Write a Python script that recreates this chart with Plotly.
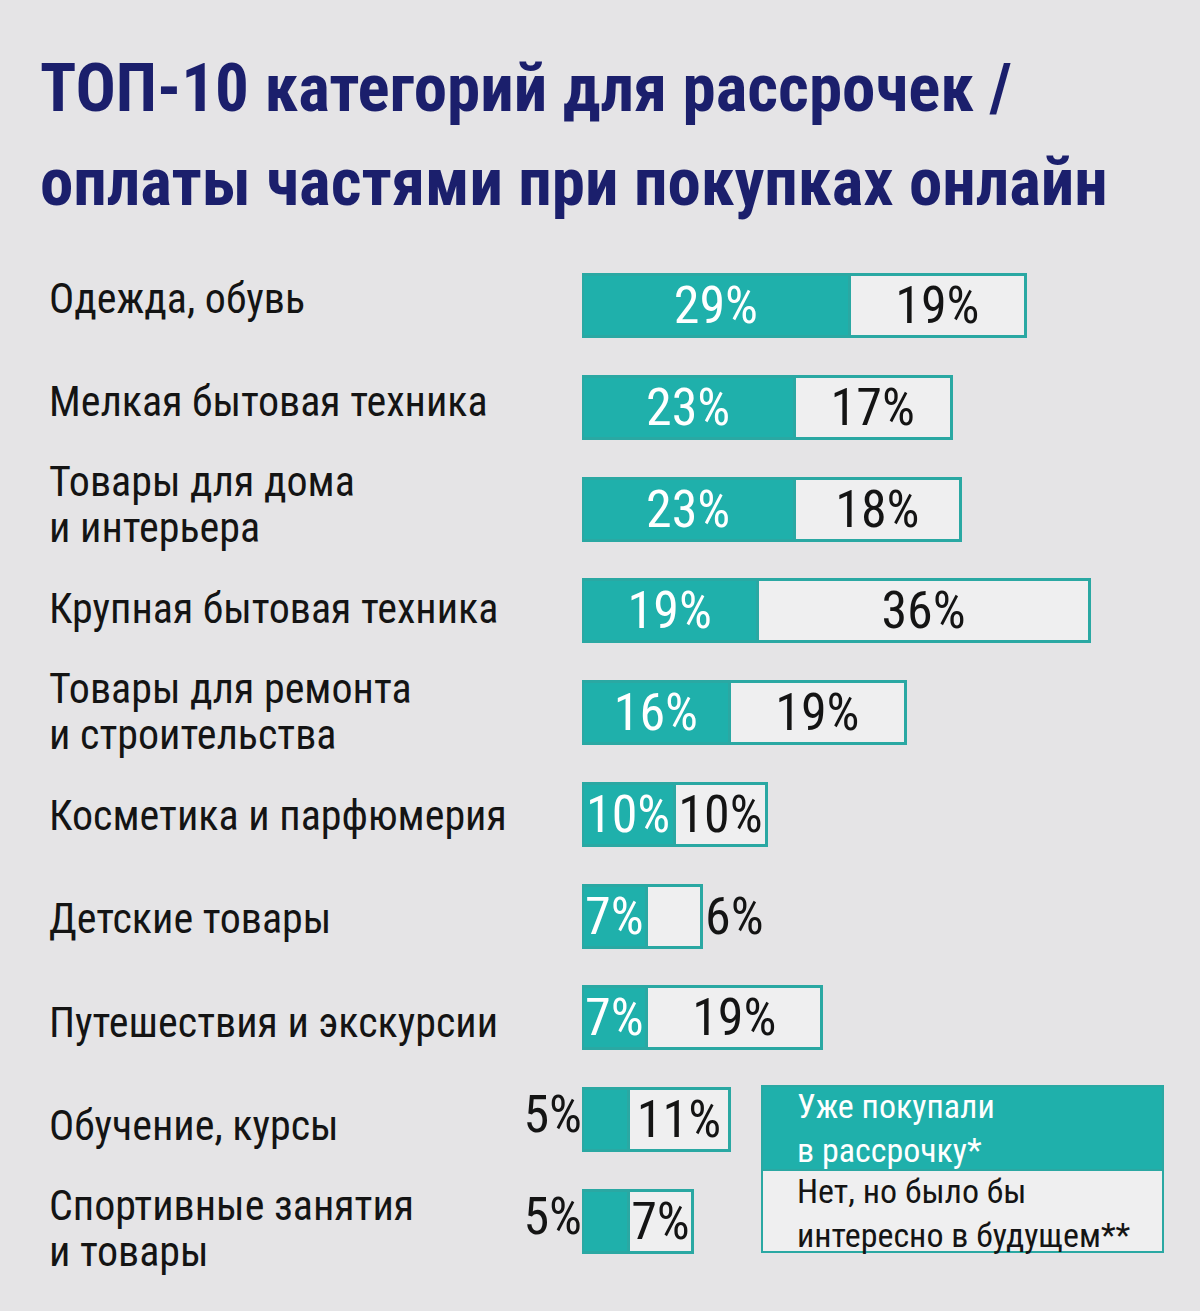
import plotly.graph_objects as go

# categories, top to bottom
categories = [
    "Одежда, обувь",
    "Мелкая бытовая техника",
    "Товары для дома<br>и интерьера",
    "Крупная бытовая техника",
    "Товары для ремонта<br>и строительства",
    "Косметика и парфюмерия",
    "Детские товары",
    "Путешествия и экскурсии",
    "Обучение, курсы",
    "Спортивные занятия<br>и товары",
]
already_bought = [29, 23, 23, 19, 16, 10, 7, 7, 5, 5]
interested = [19, 17, 18, 36, 19, 10, 6, 19, 11, 7]

legend_bought = "Уже покупали<br>в рассрочку*"
legend_interested = "Нет, но было бы<br>интересно в будущем**"
title_lines = ["ТОП-10 категорий для рассрочек /", "оплаты частями при покупках онлайн"]

TEAL = "#1fb0ab"
EDGE = "#2aa8a3"
BG = "#e5e4e6"
BOX = "#efeff0"
NAVY = "#1b1f6c"
INK = "#141414"
FONT = "Roboto Condensed, Liberation Sans Narrow, sans-serif"

W, H = 1200, 1311

# labels that don't fit go outside of the bar
bought_pos = ["inside" if v >= 7 else "none" for v in already_bought]
interested_pos = ["outside" if v <= 6 else "inside" for v in interested]
small_cats = [c for c, v in zip(categories, already_bought) if v < 7]
small_vals = [f"{v}%" for v in already_bought if v < 7]

fig = go.Figure()
fig.add_trace(go.Bar(
    y=categories, x=already_bought, orientation="h",
    marker=dict(color=TEAL, line=dict(color=EDGE, width=3)),
    text=[f"{v}%" for v in already_bought], textposition=bought_pos,
    insidetextanchor="middle", constraintext="none", textangle=0,
    insidetextfont=dict(color="white", size=52, family=FONT),
    width=0.61, name="bought",
))
fig.add_trace(go.Bar(
    y=categories, x=interested, orientation="h",
    marker=dict(color=BOX, line=dict(color=EDGE, width=3)),
    text=[f"{v}%" for v in interested], textposition=interested_pos,
    insidetextanchor="middle", constraintext="none", textangle=0,
    insidetextfont=dict(color=INK, size=52, family=FONT),
    outsidetextfont=dict(color=INK, size=52, family=FONT),
    cliponaxis=False, width=0.61, name="interested",
))
fig.add_trace(go.Scatter(
    y=small_cats, x=[0] * len(small_cats), mode="text",
    text=small_vals, textposition="middle left",
    textfont=dict(color=INK, size=52, family=FONT),
    cliponaxis=False, showlegend=False,
))
# empty trace so the label axis exists
fig.add_trace(go.Scatter(x=[None], y=[None], yaxis="y2", showlegend=False,
                         hoverinfo="skip"))

# category labels, left aligned, one annotation per line
for i, cat in enumerate(categories):
    lines = cat.split("<br>")
    for j, line in enumerate(lines):
        fig.add_annotation(
            x=47 / W, xref="paper", y=i, yref="y2", text=line,
            yshift=((len(lines) - 1) / 2 - j) * 46,
            xanchor="left", yanchor="middle", align="left", showarrow=False,
            font=dict(size=42, color=INK, family=FONT),
        )

# title
for i, line in enumerate(title_lines):
    fig.add_annotation(
        x=38 / W, xref="paper", y=1 - (88 + 94 * i) / H, yref="paper",
        text=line, xanchor="left", yanchor="middle", showarrow=False,
        font=dict(size=67, color=NAVY, family=FONT, weight="bold"),
    )

# legend box
fig.add_shape(type="rect", xref="paper", yref="paper",
              x0=762 / W, x1=1163 / W, y0=1 - 1170 / H, y1=1 - 1086 / H,
              fillcolor=TEAL, line=dict(color=EDGE, width=2))
fig.add_shape(type="rect", xref="paper", yref="paper",
              x0=762 / W, x1=1163 / W, y0=1 - 1252 / H, y1=1 - 1170 / H,
              fillcolor=BOX, line=dict(color=EDGE, width=2))
fig.add_annotation(x=795 / W, xref="paper", y=1 - 1128 / H, yref="paper",
                   text=legend_bought, xanchor="left", yanchor="middle",
                   align="left", showarrow=False,
                   font=dict(size=34, color="white", family=FONT))
fig.add_annotation(x=795 / W, xref="paper", y=1 - 1213 / H, yref="paper",
                   text=legend_interested, xanchor="left", yanchor="middle",
                   align="left", showarrow=False,
                   font=dict(size=34, color=INK, family=FONT))

fig.update_layout(
    width=W, height=H, barmode="stack", showlegend=False,
    paper_bgcolor=BG, plot_bgcolor="rgba(0,0,0,0)",
    margin=dict(l=0, r=0, t=0, b=0),
    xaxis=dict(domain=[582 / W, 1], range=[0, (W - 582) / 9.23],
               visible=False, fixedrange=True),
    yaxis=dict(domain=[1 - 1272 / H, 1 - 255 / H], categoryorder="array",
               categoryarray=categories, autorange="reversed",
               showticklabels=False, showgrid=False, zeroline=False,
               fixedrange=True),
    yaxis2=dict(domain=[1 - 1280.7 / H, 1 - 246.3 / H],
                range=[len(categories) - 0.5, -0.5], anchor="x",
                visible=False, fixedrange=True),
)

fig.write_html("out.html", config={"displayModeBar": False},
               post_script="document.body.style.margin='0';")
